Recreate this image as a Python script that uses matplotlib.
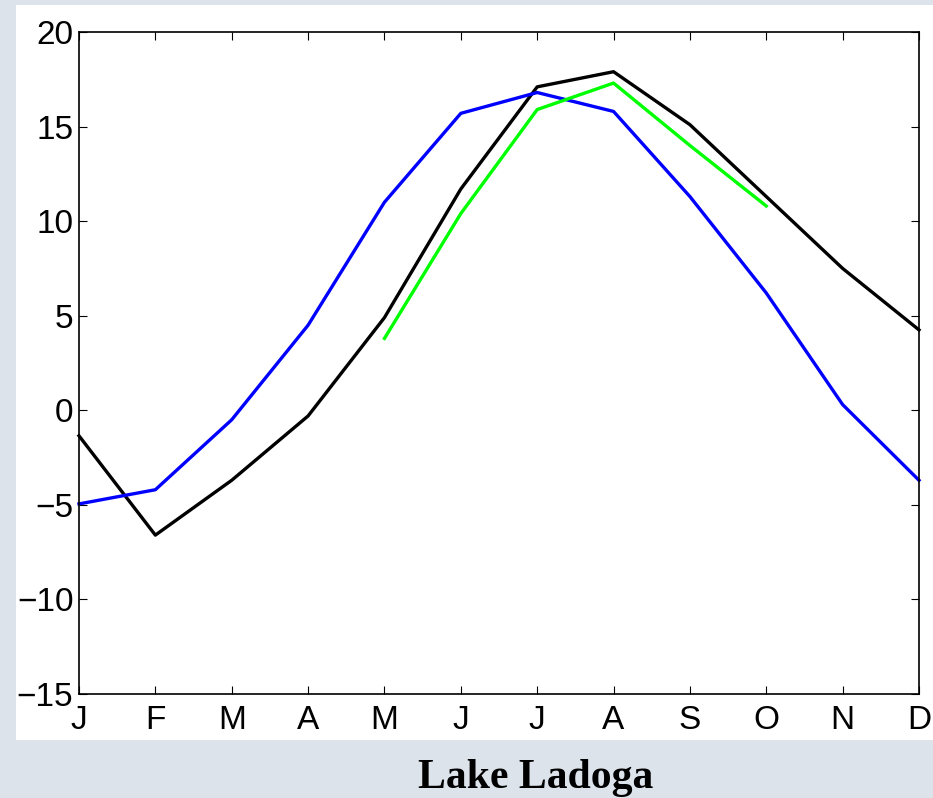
import numpy as np
import matplotlib.pyplot as plt

# etichette dei mesi
months = ['J', 'F', 'M', 'A', 'M', 'J', 'J', 'A', 'S', 'O', 'N', 'D']

# serie
black_vals = [-1.35, -6.6, -3.7, -0.3, 4.9, 11.7, 17.1, 17.9, 15.1, 11.3, 7.5, 4.25]
blue_vals = [-4.95, -4.2, -0.5, 4.5, 11.0, 15.7, 16.8, 15.8, 11.3, 6.2, 0.3, -3.7]
green_months = [4, 5, 6, 7, 8, 9]
green_vals = [3.8, 10.4, 15.9, 17.3, 14.0, 10.8]

yticks = [-15, -10, -5, 0, 5, 10, 15, 20]

W, H = 933, 798
fig = plt.figure(figsize=(W / 100, H / 100), dpi=100)
fig.patch.set_facecolor('#dce3eb')

# pannello bianco di sfondo
bg = fig.add_axes([16 / W, 1 - 740 / H, 1 - 16 / W, (740 - 5) / H], zorder=-10)
bg.set_facecolor('white')
bg.set_xticks([])
bg.set_yticks([])
for s in bg.spines.values():
    s.set_visible(False)

ax = fig.add_axes([79 / W, 1 - 694 / H, (919 - 79) / W, (694 - 32) / H])
x = np.arange(12)
ax.plot(x, black_vals, color='black', lw=2.4, clip_on=False)
ax.plot(x, blue_vals, color='#0000ff', lw=2.4, clip_on=False)
ax.plot(green_months, green_vals, color='#00ff00', lw=2.4, clip_on=False)

ax.set_xlim(0, 11)
ax.set_ylim(-15, 20)
ax.set_xticks(x)
ax.set_xticklabels(months)
ax.set_yticks(yticks)
ax.set_yticklabels([str(v).replace('-', '\u2212') for v in yticks])
ax.tick_params(direction='in', top=True, right=True, length=6, width=0.8,
               labelsize=24)
ax.tick_params(axis='x', pad=8)
ax.tick_params(axis='y', pad=4)
for lab in ax.get_xticklabels() + ax.get_yticklabels():
    lab.set_fontfamily('Liberation Sans')
for s in ax.spines.values():
    s.set_linewidth(1.2)

fig.text(536 / W, 1 - 788 / H, 'Lake Ladoga', ha='center', va='baseline',
         fontsize=30, fontweight='bold', family='Liberation Serif')

plt.savefig('out.png', dpi=100, facecolor=fig.get_facecolor())
